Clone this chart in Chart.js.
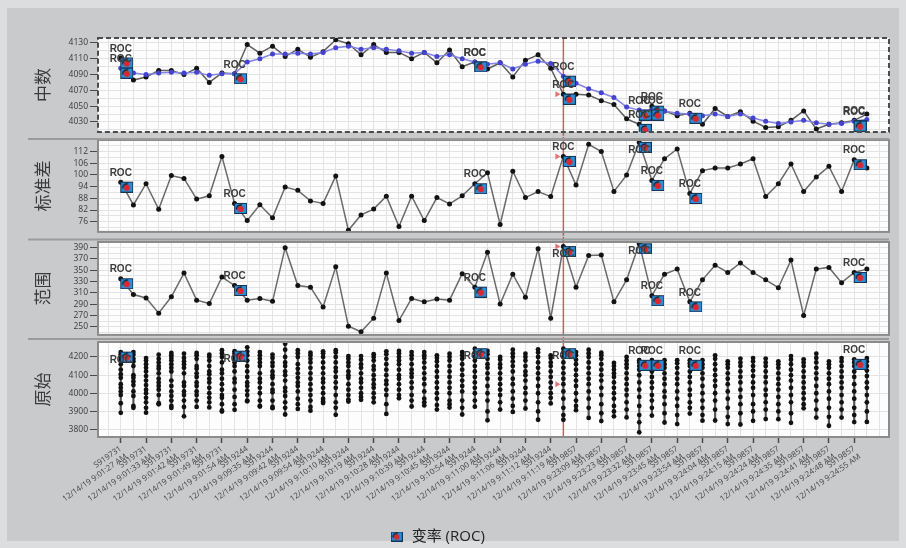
<!DOCTYPE html>
<html lang="zh">
<head>
<meta charset="utf-8">
<title>控制图</title>
<script src="https://cdn.jsdelivr.net/npm/chart.js@4.4.1/dist/chart.umd.min.js"></script>
<style>
  html, body { margin: 0; padding: 0; width: 906px; height: 548px; overflow: hidden; background: #dcdddf; }
  #panel { position: absolute; left: 7px; top: 8px; width: 892px; height: 533px; background: #c9cacc; }
  canvas { position: absolute; left: -15px; }
</style>
</head>
<body>
<div id="panel"></div>
<canvas id="chartMedian" width="921" height="113" style="top:26px;width:921px;height:113px"></canvas>
<canvas id="chartStd" width="921" height="107" style="top:132px;width:921px;height:107px"></canvas>
<canvas id="chartRange" width="921" height="108" style="top:234px;width:921px;height:108px"></canvas>
<canvas id="chartRaw" width="921" height="224" style="top:334px;width:921px;height:224px"></canvas>
<script>
// ---- sample labels (one label per two subgroups) ----
const sampleIds = ['S919731','S919731','S919731','S919731','S919731',
  'S919244','S919244','S919244','S919244','S919244','S919244','S919244','S919244','S919244','S919244','S919244','S919244','S919244',
  'S919857','S919857','S919857','S919857','S919857','S919857','S919857','S919857','S919857','S919857','S919857','S919857'];
const sampleDate = '12/14/19';
const sampleTimes = ['9:01:27 AM','9:01:33 AM','9:01:42 AM','9:01:49 AM','9:01:54 AM',
  '9:09:35 AM','9:09:42 AM','9:09:54 AM','9:10:10 AM','9:10:19 AM','9:10:28 AM','9:10:39 AM','9:10:45 AM','9:10:54 AM','9:11:00 AM','9:11:06 AM','9:11:12 AM','9:11:19 AM',
  '9:23:09 AM','9:23:23 AM','9:23:32 AM','9:23:45 AM','9:23:54 AM','9:24:04 AM','9:24:15 AM','9:24:24 AM','9:24:35 AM','9:24:41 AM','9:24:48 AM','9:24:55 AM'];

// ---- subgroup statistics ----
const medianValues = [4111,4083,4087,4095,4095,4090,4098,4080,4092,4091,
  4128,4117,4126,4113,4122,4112,4119,4134,4129,4115,
  4128,4118,4118,4110,4118,4105,4121,4100,4106,4097,
  4105,4087,4108,4115,4098,4065,4065,4064,4057,4052,
  4034,4027,4050,4044,4038,4041,4027,4047,4037,4043,
  4031,4023,4024,4032,4044,4021,4027,4029,4032,4040];
const medianTrend = [4098,4092,4090,4092,4093,4092,4093,4089,4091,4091,
  4106,4110,4116,4116,4117,4116,4118,4124,4126,4122,
  4124,4122,4120,4117,4118,4113,4115,4110,4106,4103,
  4105,4097,4103,4107,4104,4088,4079,4072,4067,4061,
  4049,4045,4045,4044,4041,4040,4038,4040,4037,4040,
  4035,4031,4028,4030,4032,4029,4027,4028,4031,4033];
const stdValues = [96.3,84.6,95.5,82.4,99.7,98.2,87.6,89.3,109.5,85.4,
  76.6,84.7,78.0,93.8,92.1,86.7,85.4,99.4,71.6,79.5,
  82.5,89.1,73.6,89.1,76.6,88.4,85.1,89.3,95.5,101.1,
  74.6,101.9,88.4,91.5,88.9,109.5,94.8,115.7,112.0,91.5,
  99.9,116.7,97.2,108.3,113.3,90.5,102.2,103.6,103.6,105.6,
  108.3,88.9,95.5,105.6,91.5,98.9,104.4,91.5,107.8,103.6];
const rangeValues = [335,307,301,274,303,345,297,291,338,323,
  297,300,295,390,323,320,285,356,251,241,
  265,345,261,300,294,299,297,344,320,382,
  290,343,302,388,265,392,320,376,377,294,
  333,397,305,343,352,294,333,359,346,363,
  346,333,319,368,270,352,355,328,346,352];

// ---- raw readings of each subgroup ----
const rawSamples = [
  [4227,4215,4200,4185,4160,4130,4105,4085,4050,4030,4010,3990,3945,3892],
  [4227,4212,4190,4175,4150,4100,4085,4065,4045,4010,3985,3930,3920],
  [4194,4180,4160,4140,4120,4095,4070,4045,4020,4000,3975,3950,3920,3893],
  [4213,4190,4170,4150,4135,4110,4080,4060,4040,4020,3990,3945,3939],
  [4222,4210,4195,4180,4160,4140,4120,4070,4040,4010,3985,3960,3930,3919],
  [4218,4195,4175,4160,4140,4110,4060,4040,4010,3990,3960,3925,3873],
  [4222,4210,4190,4150,4135,4110,4090,4060,4040,4010,3990,3960,3925],
  [4213,4200,4180,4150,4120,4105,4080,4060,4030,4000,3975,3950,3922],
  [4237,4220,4200,4170,4130,4110,4080,4050,4020,3990,3975,3940,3905,3899],
  [4232,4220,4205,4190,4170,4150,4120,4080,4060,4020,3980,3940,3909],
  [4253,4230,4210,4180,4150,4120,4090,4060,4040,4015,3990,3960,3956],
  [4227,4210,4190,4170,4150,4110,4080,4060,4030,4000,3960,3930,3927],
  [4213,4195,4170,4150,4120,4100,4085,4050,4020,4005,3960,3925,3918],
  [4273,4240,4200,4170,4150,4120,4100,4070,4030,4010,3985,3950,3920,3883],
  [4237,4220,4200,4160,4135,4110,4085,4060,4040,4010,3970,3940,3914],
  [4224,4210,4190,4170,4140,4110,4080,4050,4020,3990,3960,3925,3904],
  [4231,4220,4200,4170,4140,4110,4080,4060,4030,4000,3970,3955,3946],
  [4237,4225,4200,4170,4140,4120,4090,4060,4030,3990,3950,3920,3881],
  [4205,4190,4170,4150,4120,4100,4085,4050,4020,3990,3965,3954],
  [4205,4185,4160,4140,4110,4080,4060,4030,4000,3980,3964],
  [4215,4200,4180,4150,4130,4100,4075,4050,4030,4000,3975,3950],
  [4231,4215,4190,4160,4130,4100,4070,4050,4020,3990,3940,3886],
  [4233,4220,4200,4180,4160,4130,4100,4080,4050,4020,3990,3972],
  [4227,4210,4190,4160,4130,4110,4090,4060,4030,3990,3960,3927],
  [4227,4210,4195,4170,4140,4110,4080,4050,4010,3970,3950,3933],
  [4209,4195,4175,4150,4120,4090,4060,4030,4000,3970,3935,3910],
  [4218,4200,4180,4150,4120,4090,4060,4030,4000,3960,3940,3921],
  [4227,4210,4190,4160,4130,4100,4070,4040,4010,3960,3920,3883],
  [4246,4225,4200,4180,4150,4120,4090,4060,4030,4000,3960,3926],
  [4233,4215,4190,4160,4140,4110,4080,4040,4000,3960,3900,3851],
  [4200,4185,4160,4140,4110,4080,4050,4020,3990,3950,3910],
  [4240,4220,4200,4175,4150,4120,4080,4050,4010,3970,3930,3897],
  [4218,4200,4180,4150,4120,4100,4070,4030,4000,3960,3916],
  [4242,4225,4200,4170,4140,4110,4080,4040,4000,3950,3900,3854],
  [4209,4195,4170,4150,4120,4090,4060,4030,4000,3975,3944],
  [4246,4225,4200,4170,4140,4110,4080,4050,4010,3970,3920,3880,3854],
  [4227,4210,4185,4160,4130,4100,4070,4040,4000,3960,3930,3907],
  [4240,4220,4200,4170,4140,4110,4080,4050,4010,3970,3920,3864],
  [4224,4210,4190,4160,4130,4100,4070,4030,3990,3940,3890,3847],
  [4167,4150,4130,4110,4090,4060,4030,4000,3970,3930,3900,3873],
  [4200,4180,4160,4140,4110,4080,4050,4020,3990,3950,3910,3867],
  [4182,4170,4150,4130,4100,4060,4020,3980,3930,3880,3840,3785],
  [4182,4165,4140,4120,4090,4060,4030,3990,3960,3920,3877],
  [4182,4160,4140,4110,4080,4050,4010,3980,3940,3890,3839],
  [4182,4165,4140,4110,4080,4050,4010,3970,3930,3880,3830],
  [4182,4165,4150,4120,4090,4060,4020,3990,3950,3920,3888],
  [4182,4160,4140,4110,4080,4040,4000,3960,3920,3880,3849],
  [4209,4190,4160,4130,4100,4070,4040,4000,3960,3910,3850],
  [4176,4160,4140,4110,4080,4050,4010,3970,3920,3870,3830],
  [4191,4170,4150,4120,4090,4060,4020,3980,3940,3890,3828],
  [4194,4175,4150,4125,4095,4060,4030,3990,3940,3900,3848],
  [4191,4170,4150,4120,4090,4060,4020,3990,3950,3910,3858],
  [4176,4160,4140,4110,4080,4050,4020,3980,3940,3900,3857],
  [4205,4185,4160,4130,4100,4070,4030,3990,3950,3890,3837],
  [4187,4170,4150,4120,4090,4060,4030,4000,3970,3940,3917],
  [4218,4195,4170,4140,4110,4080,4040,4000,3960,3910,3866],
  [4176,4160,4140,4110,4080,4050,4010,3970,3920,3870,3821],
  [4194,4175,4150,4120,4090,4060,4030,3990,3950,3910,3866],
  [4187,4170,4150,4120,4090,4050,4010,3970,3920,3880,3841],
  [4194,4175,4150,4125,4095,4060,4030,3990,3950,3900,3842]
];

// ---- subgroups flagged by the rate-of-change rule ----
const rocMedianIdx = [0, 9, 28, 35, 41, 42, 45, 58];
const rocTrendIdx  = [0, 28, 35, 41, 42, 58];
const rocStdIdx    = [0, 9, 28, 35, 41, 42, 45, 58];
const rocRangeIdx  = [0, 9, 28, 35, 41, 42, 45, 58];
const rocRawIdx    = [0, 9, 28, 35, 41, 42, 45, 58];

// ---- selected subgroup (cursor) ----
const cursorIndex = 35;
const rawCursorValue = 4050;

// ---------------------------------------------------------------
const rawMin = rawSamples.map(c => Math.min(...c));
const rawMax = rawSamples.map(c => Math.max(...c));

function drawRocGlyph(g, x, y, w, h) {
  g.fillStyle = '#173454'; g.fillRect(x, y, w, h);
  g.fillStyle = '#2a8fd8'; g.fillRect(x + 1, y + 1, w - 2, h - 2);
  const cx = x + w / 2, cy = y + h / 2 + 0.5, r = Math.min(w, h) * 0.28;
  g.fillStyle = '#e0242b'; g.beginPath(); g.arc(cx, cy, r, 0, Math.PI * 2); g.fill();
  g.strokeStyle = '#161616'; g.lineWidth = 1.3;
  g.beginPath(); g.arc(cx, cy, r + 0.9, Math.PI * 0.95, Math.PI * 1.6); g.stroke();
}
// glyph drawn off-centre so the marker sits below-right of its point
function makeIcon(w, h, ox, oy) {
  const c = document.createElement('canvas');
  c.width = w + 2 * Math.abs(ox); c.height = h + 2 * Math.abs(oy);
  drawRocGlyph(c.getContext('2d'), Math.round(c.width / 2 + ox - w / 2), Math.round(c.height / 2 + oy - h / 2), w, h);
  return c;
}
const rocMark = makeIcon(13, 11, 6, 5);
const rocLegendMark = makeIcon(12, 10, 0, 0);

// white plot area, cursor line, ROC captions, frame and separator
const panelDecor = {
  id: 'panelDecor',
  beforeDraw(chart) {
    const a = chart.chartArea, g = chart.ctx;
    g.save(); g.fillStyle = '#fdfdfd';
    g.fillRect(a.left, a.top, a.right - a.left, a.bottom - a.top); g.restore();
  },
  beforeDatasetsDraw(chart, args, o) {
    if (o.cursorIndex == null) return;
    const a = chart.chartArea, g = chart.ctx;
    const x = chart.scales.x.getPixelForValue(o.cursorIndex);
    g.save();
    g.strokeStyle = 'rgba(196,72,72,0.85)'; g.lineWidth = 1.5;
    g.beginPath(); g.moveTo(x, a.top - o.cursorAbove); g.lineTo(x, a.bottom + o.cursorBelow); g.stroke();
    const y = chart.scales.y.getPixelForValue(o.cursorValue);
    g.fillStyle = 'rgba(228,98,98,0.9)';
    g.beginPath(); g.moveTo(x - 3, y); g.lineTo(x - 8, y - 3); g.lineTo(x - 8, y + 3); g.closePath(); g.fill();
    g.restore();
  },
  afterDatasetsDraw(chart, args, o) {
    const a = chart.chartArea, g = chart.ctx;
    g.save();
    g.font = 'bold 10px "Liberation Sans", Arial, sans-serif';
    g.fillStyle = '#3d3d3d'; g.textAlign = 'center'; g.textBaseline = 'middle';
    chart.data.datasets.forEach((ds, i) => {
      if (!ds.rocLabel) return;
      chart.getDatasetMeta(i).data.forEach(pt => {
        let ty = pt.y - 9;
        if (ty - 5 < a.top) ty = pt.y + 8;
        g.fillText('ROC', pt.x, ty);
      });
    });
    g.lineWidth = 2;
    g.strokeStyle = o.dashed ? '#4b4b4b' : '#8b8b8b';
    g.setLineDash(o.dashed ? [5, 3] : []);
    g.strokeRect(a.left, a.top, a.right - a.left, a.bottom - a.top);
    g.setLineDash([]);
    if (o.separatorGap != null) {
      const y = a.top - o.separatorGap;
      g.strokeStyle = '#9b9b9b';
      g.beginPath(); g.moveTo(o.separatorLeft, y); g.lineTo(a.right, y); g.stroke();
    }
    g.restore();
  }
};
Chart.register(panelDecor);

const X_MIN = -1.8, X_MAX = 60.75;
const labelled = v => Number.isInteger(v) && v >= 0 && v % 2 === 0 && v / 2 < sampleIds.length;

function xAxis(withLabels) {
  return {
    type: 'linear', min: X_MIN, max: X_MAX, offset: false,
    afterBuildTicks(s) {
      const t = [];
      for (let i = Math.ceil(X_MIN); i <= Math.floor(X_MAX); i++) t.push({ value: i });
      s.ticks = t;
    },
    afterFit(s) { s.height = withLabels ? 82 : 0; },
    border: { display: false },
    grid: {
      color: '#e3e3e3', lineWidth: 1, offset: false, drawTicks: withLabels, tickLength: 6, tickWidth: 1.5,
      tickColor: c => (c.tick && labelled(c.tick.value)) ? '#4a4a4a' : 'rgba(0,0,0,0)'
    },
    ticks: {
      display: withLabels, autoSkip: false, minRotation: 35, maxRotation: 35, padding: 1, color: '#444',
      font: { family: '"Open Sans", sans-serif', size: 8 },
      callback: v => labelled(v) ? [sampleIds[v / 2], sampleDate + ' ' + sampleTimes[v / 2]] : ''
    }
  };
}

function yAxis(title, min, max, step, anchor, isMajor) {
  return {
    type: 'linear', min, max,
    afterBuildTicks(s) {
      const t = [];
      for (let v = anchor - Math.floor((anchor - min) / step) * step; v <= max; v += step) t.push({ value: v });
      s.ticks = t;
    },
    afterFit(s) { s.width = 113; },
    border: { display: false },
    grid: {
      color: '#e3e3e3', lineWidth: 1, tickLength: 8, tickWidth: 1,
      tickColor: c => (c.tick && isMajor(c.tick.value)) ? '#4a4a4a' : 'rgba(0,0,0,0)'
    },
    ticks: {
      autoSkip: false, padding: 2, color: '#3a3a3a',
      font: { family: '"Open Sans", sans-serif', size: 8.5 },
      callback: v => isMajor(v) ? String(v) : ''
    },
    title: {
      display: true, text: title, color: '#3b3b3b',
      font: { family: '"Noto Sans CJK SC", sans-serif', size: 17 },
      padding: { top: 47, bottom: 0 }
    }
  };
}

const toPts = arr => arr.map((v, i) => ({ x: i, y: v }));
const pick = (arr, idx) => idx.map(i => ({ x: i, y: arr[i] }));
const rocSet = data => ({
  type: 'line', label: '变率 (ROC)', data, showLine: false,
  pointStyle: rocMark, pointRadius: 6, rocLabel: true
});
const seriesSet = (label, data, line, dot) => ({
  type: 'line', label, data, borderColor: line, borderWidth: 1.5,
  pointRadius: 2.5, pointBackgroundColor: dot, pointBorderWidth: 0, tension: 0
});

function options(yCfg, decor, withLabels, pad, legend) {
  return {
    responsive: false, animation: false, events: [], devicePixelRatio: 1,
    layout: { padding: pad },
    scales: { x: xAxis(withLabels), y: yCfg },
    plugins: { legend: legend || { display: false }, tooltip: { enabled: false }, panelDecor: decor }
  };
}

const SEP_LEFT = 43;

new Chart(document.getElementById('chartMedian'), {
  type: 'line',
  data: { datasets: [
    rocSet(pick(medianTrend, rocTrendIdx)),
    rocSet(pick(medianValues, rocMedianIdx)),
    seriesSet('趋势', toPts(medianTrend), '#8585e6', '#4343cf'),
    seriesSet('中数', toPts(medianValues), '#5e5e5e', '#121212')
  ] },
  options: options(
    yAxis('中数', 4017.4, 4136.3, 10, 4030, v => v >= 4030 && v <= 4130 && (v - 4030) % 20 === 0),
    { cursorIndex, cursorValue: medianValues[cursorIndex], cursorAbove: 0, cursorBelow: 4, dashed: true },
    false, { top: 12, bottom: 6, left: 0, right: 17 })
});

new Chart(document.getElementById('chartStd'), {
  type: 'line',
  data: { datasets: [
    rocSet(pick(stdValues, rocStdIdx)),
    seriesSet('标准差', toPts(stdValues), '#6a6a6a', '#121212')
  ] },
  options: options(
    yAxis('标准差', 70.8, 117.9, 3, 76, v => v >= 76 && v <= 112 && (v - 76) % 6 === 0),
    { cursorIndex, cursorValue: stdValues[cursorIndex], cursorAbove: 3, cursorBelow: 4, separatorGap: 1, separatorLeft: SEP_LEFT },
    false, { top: 8, bottom: 6, left: 0, right: 17 })
});

new Chart(document.getElementById('chartRange'), {
  type: 'line',
  data: { datasets: [
    rocSet(pick(rangeValues, rocRangeIdx)),
    seriesSet('范围', toPts(rangeValues), '#6a6a6a', '#121212')
  ] },
  options: options(
    yAxis('范围', 235.5, 400, 10, 250, v => v >= 250 && v <= 390 && (v - 250) % 20 === 0),
    { cursorIndex, cursorValue: rangeValues[cursorIndex], cursorAbove: 5, cursorBelow: 1, separatorGap: 2.5, separatorLeft: SEP_LEFT },
    false, { top: 8, bottom: 6, left: 0, right: 17 })
});

new Chart(document.getElementById('chartRaw'), {
  type: 'line',
  data: { datasets: [
    rocSet(pick(rawMax, rocRawIdx)),
    {
      type: 'line', label: '原始', showLine: false,
      data: rawSamples.flatMap((c, i) => c.map(v => ({ x: i, y: v }))),
      pointRadius: 2.4, pointBackgroundColor: '#111', pointBorderWidth: 0
    },
    {
      type: 'bar', label: '跨度',
      data: rawSamples.map((c, i) => ({ x: i, y: [rawMin[i], rawMax[i]] })),
      backgroundColor: '#555', barThickness: 1.5
    }
  ] },
  options: options(
    yAxis('原始', 3759, 4282.6, 100, 3800, v => v >= 3800 && v <= 4200 && v % 100 === 0),
    { cursorIndex, cursorValue: rawCursorValue, cursorAbove: 5, cursorBelow: 0, separatorGap: 3, separatorLeft: SEP_LEFT },
    true, { top: 8, bottom: 4, left: 0, right: 17 },
    {
      display: true, position: 'bottom', align: 'center',
      labels: {
        usePointStyle: true, padding: 10, color: '#222',
        font: { family: '"Open Sans", "Noto Sans CJK SC", sans-serif', size: 15 },
        generateLabels: () => [{
          text: '变率 (ROC)', pointStyle: rocLegendMark, fillStyle: '#2a8fd8',
          strokeStyle: '#173454', lineWidth: 0, hidden: false, datasetIndex: 0, fontColor: '#222'
        }]
      }
    })
});
</script>
</body>
</html>
